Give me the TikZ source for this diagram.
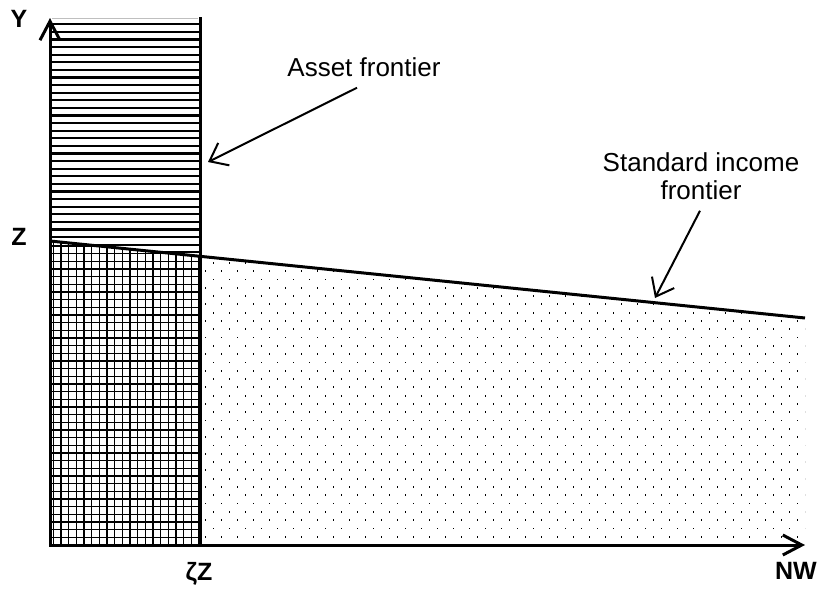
\documentclass[tikz,border=0pt]{standalone}
\usepackage{fontspec}
\setmainfont{Liberation Sans}
\usepackage{tikz}
\usetikzlibrary{arrows.meta}
\tikzstyle{axes} = [line width=3pt, {Straight Barb[length=19pt,width=20pt]}-{Straight Barb[length=19pt,width=20pt]}]
\tikzstyle{frontier} = [line width=3pt]
\tikzstyle{pointer} = [line width=2pt, -{Straight Barb[length=16pt,width=25pt]}]
\tikzstyle{axislabel} = [font=\fontsize{25}{28}\selectfont\bfseries]
\tikzstyle{caption} = [font=\fontsize{26}{28}\selectfont, align=center, inner ysep=10.5pt]

\begin{document}
\begin{tikzpicture}[x=1pt,y=-1pt]
      \useasboundingbox (0,0) rectangle (822,595);
      \coordinate (origin) at (50,545);
      \coordinate (ytop) at (50,18);
      \coordinate (xend) at (805,545);
      \coordinate (zpt) at (50,241);
      \coordinate (kink) at (200,256.3);
      \coordinate (incend) at (805,318);
      \coordinate (atop) at (200,17);
      \coordinate (afoot) at (200,545);
      \coordinate (assettip) at (208,162);
      \coordinate (inctip) at (655,298);
      \begin{scope}
        \clip (50,18) -- (200,18) -- (kink) -- (zpt) -- cycle;
        \foreach \k in {0,...,31}
          \draw [line width=2.2pt] (50,{24.3+7.6*\k}) -- (200,{24.3+7.6*\k});
      \end{scope}
      \begin{scope}
        \clip (zpt) -- (kink) -- (afoot) -- (origin) -- cycle;
        \foreach \k in {0,...,19}
          \draw [line width=1.4pt] ({53.3+7.67*\k},230) -- ({53.3+7.67*\k},545);
        \foreach \k in {1,...,40}
          \draw [line width=1.4pt] (50,{545-7.67*\k}) -- (200,{545-7.67*\k});
      \end{scope}
      \begin{scope}
        \clip (kink) -- (incend) -- (xend) -- (afoot) -- cycle;
        \foreach \r in {0,...,35}
          \foreach \c in {0,...,37}
            \fill ({204.5+16*\c+8*mod(\r,2)},{535.8-8.3*\r}) rectangle +(1.8,1.8);
      \end{scope}
      \draw [gray!50, line width=0.8pt] (52,18) -- (198,18);
      \draw [frontier] (atop) -- (afoot);
      \draw [frontier] (zpt) -- (incend);
      \draw [axes] (ytop) -- (origin) -- (xend);
      \node (ylbl) [axislabel] at (19,19) {Y};
      \node (zlbl) [axislabel] at (19,237) {Z};
      \node (zetalbl) [axislabel] at (199,574) {ζZ};
      \node (nwlbl) [axislabel] at (796,571) {NW};
      \node (assetlbl) [caption] at (364,67.5) {Asset frontier};
      \node (inclbl) [caption] at (701,176.5) {Standard income\\frontier};
      \draw [pointer] ([xshift=-7pt]assetlbl.south) -- (assettip);
      \draw [pointer] ([xshift=-1pt]inclbl.south) -- (inctip);
    \end{tikzpicture}
\end{document}
